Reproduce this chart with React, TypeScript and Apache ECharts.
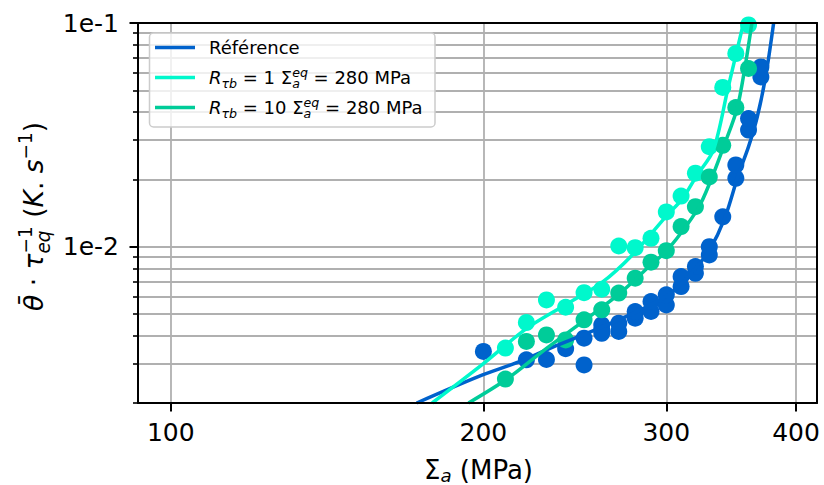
import React, { useEffect, useRef } from "react";
import * as echarts from "echarts";

const FONT = "DejaVu Sans";

// ---------- axis ranges & ticks ----------
const X_RANGE = [93, 419];
const Y_RANGE = [0.002, 0.1];
const xTickValues = [100, 200, 300, 400];
const yMajorValues = [0.01, 0.1];
const yMinorValues = [
  0.002, 0.003, 0.004, 0.005, 0.006, 0.007, 0.008, 0.009, 0.01,
  0.02, 0.03, 0.04, 0.05, 0.06, 0.07, 0.08, 0.09, 0.1,
];

// ---------- data: Référence ----------
const refX = [200, 220, 230, 240, 250, 250, 260, 260, 260, 270, 270, 280, 280, 290, 290, 300, 300, 310, 310, 320, 320, 330, 330, 340, 350, 350, 360, 360, 370, 370];
const refY = [0.0034, 0.00312, 0.00313, 0.0035, 0.00296, 0.0039, 0.00425, 0.00447, 0.0041, 0.00455, 0.00418, 0.00479, 0.00513, 0.00513, 0.00568, 0.00549, 0.00609, 0.00663, 0.00735, 0.0076, 0.00815, 0.00918, 0.0100, 0.0136, 0.0202, 0.0232, 0.0332, 0.0374, 0.0574, 0.0636];
const refFitX = [172.5, 198, 217, 233, 250, 260, 280, 300, 310, 320, 330, 341.5, 352, 360, 367, 374, 380.6];
const refFitY = [0.002, 0.00263, 0.00307, 0.00355, 0.00405, 0.00437, 0.00508, 0.006, 0.0068, 0.008, 0.0096, 0.0134, 0.021, 0.028, 0.038, 0.058, 0.1];

// ---------- data: R_tb = 1 ----------
const r1X = [210, 220, 230, 240, 250, 260, 270, 280, 290, 300, 310, 320, 330, 340, 350, 360];
const r1Y = [0.00352, 0.00458, 0.00578, 0.00536, 0.00623, 0.00645, 0.01007, 0.0099, 0.0109, 0.0143, 0.01684, 0.0213, 0.028, 0.0515, 0.073, 0.098];
const r1FitX = [178.5, 200, 220, 240, 260, 279, 300, 311, 321, 333, 344, 356];
const r1FitY = [0.002, 0.003, 0.0043, 0.0055, 0.0069, 0.0093, 0.0137, 0.0164, 0.0208, 0.027, 0.0512, 0.1];

// ---------- data: R_tb = 10 ----------
const r10X = [210, 220, 230, 240, 250, 260, 270, 280, 290, 300, 310, 320, 330, 340, 350, 360];
const r10Y = [0.00256, 0.00377, 0.00403, 0.00383, 0.00471, 0.00522, 0.0062, 0.00723, 0.00852, 0.0096, 0.0123, 0.0151, 0.0205, 0.0284, 0.0419, 0.0626];
const r10FitX = [193.5, 210.7, 230.2, 250.6, 270.8, 291, 301, 321.8, 331.4, 341.6, 351, 357.2, 362.7];
const r10FitY = [0.002, 0.00256, 0.00352, 0.00471, 0.0062, 0.00843, 0.0097, 0.0148, 0.02, 0.029, 0.0415, 0.0636, 0.1];

const C_REF = "#0062cc";
const C_R1 = "#00f8cc";
const C_R10 = "#00cc99";

const L = (v: number) => Math.log10(v);
const pts = (xs: number[], ys: number[]) => xs.map((x, i) => [L(x), L(ys[i])]);

// ---------- math-like text helper ----------
let ctx: CanvasRenderingContext2D | null = null;
function measure(t: string, size: number, italic: boolean) {
  if (!ctx) ctx = document.createElement("canvas").getContext("2d");
  if (!ctx) return t.length * size * 0.6;
  ctx.font = `${italic ? "italic " : ""}${size}px "${FONT}"`;
  return ctx.measureText(t).width;
}
type Piece = { t: string; it?: boolean; s?: number; dy?: number; stack?: boolean };
function mathText(pieces: Piece[], base: number, z = 0, color = "#000") {
  const out: any[] = [];
  let x = 0;
  let lastStart = 0;
  let lastW = 0;
  for (const p of pieces) {
    const size = base * (p.s ?? 1);
    const w = measure(p.t, size, !!p.it);
    let px: number;
    if (p.stack) {
      px = lastStart;
      const adv = Math.max(lastW, w);
      x = lastStart + adv;
      lastW = adv;
    } else {
      px = x;
      lastStart = x;
      lastW = w;
      x += w;
    }
    out.push({
      type: "text",
      x: px,
      y: -(p.dy ?? 0) * base - 0.35 * size,
      z,
      silent: true,
      style: {
        text: p.t,
        fill: color,
        fontSize: size,
        fontFamily: FONT,
        fontStyle: p.it ? "italic" : "normal",
        align: "left",
        verticalAlign: "middle",
        textAlign: "left",
        textVerticalAlign: "middle",
      },
    });
  }
  return out;
}

function legendLabel(r: string): Piece[] {
  return [
    { t: "R", it: true },
    { t: "τb", it: true, s: 0.7, dy: -0.22 },
    { t: ` = ${r} ` },
    { t: "Σ" },
    { t: "eq", it: true, s: 0.7, dy: 0.42 },
    { t: "a", it: true, s: 0.7, dy: -0.22, stack: true },
    { t: " = 280 MPa" },
  ];
}

function buildOption(): any {
  const xMin = L(X_RANGE[0]);
  const xMax = L(X_RANGE[1]);
  const yMin = L(Y_RANGE[0]);
  const yMax = L(Y_RANGE[1]);
  const black = "#000";
  const gridColor = "#b0b0b0";

  const frameX = (pos: string) => ({
    type: "value", min: xMin, max: xMax, position: pos, z: 5,
    axisLine: { show: true, onZero: false, lineStyle: { color: black, width: 2 } },
    axisTick: { show: false }, axisLabel: { show: false }, splitLine: { show: false },
  });
  const frameY = (pos: string) => ({
    type: "value", min: yMin, max: yMax, position: pos, z: 5,
    axisLine: { show: true, onZero: false, lineStyle: { color: black, width: 2 } },
    axisTick: { show: false }, axisLabel: { show: false }, splitLine: { show: false },
  });

  const rowBase = [54, 84, 114];
  const legendRows: any[] = [
    { color: C_REF, pieces: [{ t: "Référence" }] as Piece[] },
    { color: C_R1, pieces: legendLabel("1") },
    { color: C_R10, pieces: legendLabel("10") },
  ];

  const graphic: any[] = [
    {
      type: "rect",
      shape: { x: 149.5, y: 33, width: 285.5, height: 94, r: 4 },
      style: { fill: "rgba(255,255,255,0.8)", stroke: "#cccccc", lineWidth: 1.5 },
      z: 10,
      silent: true,
    },
  ];
  legendRows.forEach((row, i) => {
    graphic.push({
      type: "line",
      shape: { x1: 155, y1: rowBase[i] - 6.5, x2: 195, y2: rowBase[i] - 6.5 },
      style: { stroke: row.color, lineWidth: 3.5 },
      z: 11,
      silent: true,
    });
    graphic.push({
      type: "group",
      x: 209,
      y: rowBase[i],
      z: 11,
      children: mathText(row.pieces, 18, 11),
    });
  });

  // x axis title
  graphic.push({
    type: "group",
    x: 424,
    y: 479,
    children: mathText(
      [{ t: "Σ" }, { t: "a", it: true, s: 0.7, dy: -0.12 }, { t: " (MPa)" }],
      26,
      11
    ),
  });

  // y axis title (rotated)
  graphic.push({
    type: "group",
    x: 43,
    y: 311,
    rotation: Math.PI / 2,
    children: mathText(
      [
        { t: "θ̄", it: true },
        { t: " · " },
        { t: "τ", it: true },
        { t: "−1", s: 0.7, dy: 0.42 },
        { t: "eq", it: true, s: 0.7, dy: -0.25, stack: true },
        { t: " (" },
        { t: "K", it: true },
        { t: ". " },
        { t: "s", it: true },
        { t: "−1", s: 0.7, dy: 0.42 },
        { t: ")" },
      ],
      26.5,
      11
    ),
  });

  const lineSeries = (name: string, xs: number[], ys: number[], color: string) => ({
    name,
    type: "line",
    data: pts(xs, ys),
    showSymbol: false,
    smooth: 0.3,
    lineStyle: { color, width: 3.5 },
    itemStyle: { color },
    xAxisIndex: 0,
    yAxisIndex: 0,
    clip: true,
  });
  const scatterSeries = (name: string, xs: number[], ys: number[], color: string) => ({
    name,
    type: "scatter",
    data: pts(xs, ys),
    symbol: "circle",
    symbolSize: 17,
    itemStyle: { color, opacity: 1 },
    xAxisIndex: 0,
    yAxisIndex: 0,
    clip: true,
  });

  return {
    animation: false,
    backgroundColor: "#fff",
    grid: { left: 138, right: 7, top: 23, bottom: 82, containLabel: false },
    xAxis: [
      {
        type: "value", min: xMin, max: xMax, position: "bottom",
        axisLine: { show: false },
        axisTick: {
          show: true, length: 8.5, customValues: xTickValues.map(L),
          lineStyle: { color: black, width: 2 },
        },
        axisLabel: {
          show: true, customValues: xTickValues.map(L), margin: 17,
          formatter: (v: number) => String(Math.round(Math.pow(10, v))),
          fontFamily: FONT, fontSize: 25, color: black,
        },
        splitLine: { show: true, lineStyle: { color: gridColor, width: 1.8 } },
      },
      frameX("bottom"),
      frameX("top"),
    ],
    yAxis: [
      {
        type: "value", min: yMin, max: yMax, position: "left",
        axisLine: { show: false },
        axisTick: {
          show: true, length: 5, customValues: yMinorValues.map(L),
          lineStyle: { color: black, width: 1.6 },
        },
        axisLabel: { show: false },
        splitLine: { show: true, lineStyle: { color: gridColor, width: 1.8 } },
      },
      {
        type: "value", min: yMin, max: yMax, position: "left",
        axisLine: { show: false },
        axisTick: {
          show: true, length: 8.5, customValues: yMajorValues.map(L),
          lineStyle: { color: black, width: 2 },
        },
        axisLabel: {
          show: true, customValues: yMajorValues.map(L), margin: 19,
          formatter: (v: number) => `1e${Math.round(v)}`,
          fontFamily: FONT, fontSize: 25, color: black,
        },
        splitLine: { show: false },
      },
      frameY("left"),
      frameY("right"),
    ],
    graphic,
    series: [
      lineSeries("Référence fit", refFitX, refFitY, C_REF),
      scatterSeries("Référence", refX, refY, C_REF),
      lineSeries("R1 fit", r1FitX, r1FitY, C_R1),
      scatterSeries("R1", r1X, r1Y, C_R1),
      lineSeries("R10 fit", r10FitX, r10FitY, C_R10),
      scatterSeries("R10", r10X, r10Y, C_R10),
    ],
  };
}

export default function App() {
  const ref = useRef<HTMLDivElement>(null);
  useEffect(() => {
    document.body.style.margin = "0";
    if (!ref.current) return;
    const chart = echarts.init(ref.current, undefined, { renderer: "svg" });
    chart.setOption(buildOption());
    return () => chart.dispose();
  }, []);
  return <div ref={ref} style={{ width: 824, height: 485 }} />;
}
